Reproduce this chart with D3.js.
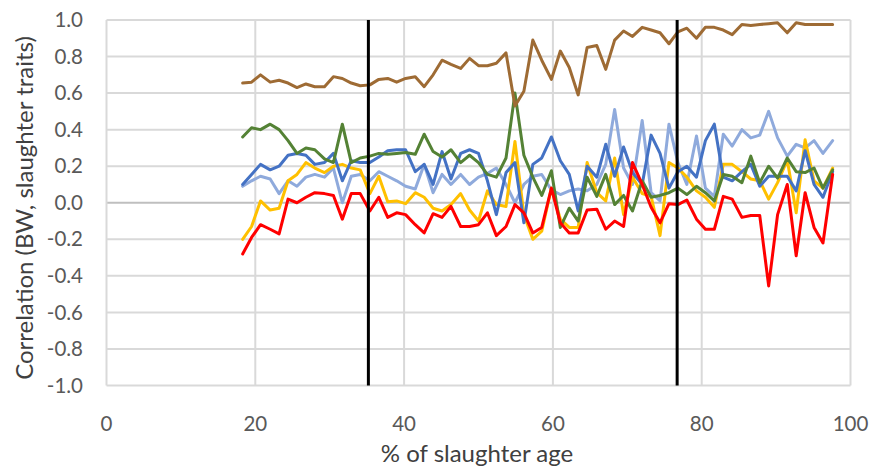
<!DOCTYPE html>
<html>
<head>
<meta charset="utf-8">
<title>Correlation BW vs slaughter traits</title>
<script src="https://cdn.jsdelivr.net/npm/d3@7"></script>
<style>
  body { margin: 0; background: #fff; }
  svg text { font-family: Lato, "Open Sans", sans-serif; }
</style>
</head>
<body>
<div id="chart"></div>
<script>
// x positions: % of slaughter age
var pctAge = [18.3, 19.5, 20.7, 22.0, 23.2, 24.4, 25.6, 26.8, 28.0, 29.3, 30.5, 31.7, 32.9, 34.1, 35.4, 36.6,
  37.8, 39.0, 40.2, 41.5, 42.7, 43.9, 45.1, 46.3, 47.6, 48.8, 50.0, 51.2, 52.4, 53.7, 54.9, 56.1,
  57.3, 58.5, 59.8, 61.0, 62.2, 63.4, 64.6, 65.9, 67.1, 68.3, 69.5, 70.7, 72.0, 73.2, 74.4, 75.6,
  76.8, 78.0, 79.3, 80.5, 81.7, 82.9, 84.1, 85.4, 86.6, 87.8, 89.0, 90.2, 91.5, 92.7, 93.9, 95.1,
  96.3, 97.6];

var brown = [0.655, 0.66, 0.70, 0.66, 0.67, 0.655, 0.63, 0.65, 0.635, 0.635, 0.69, 0.68, 0.655, 0.64, 0.645, 0.675,
  0.68, 0.66, 0.68, 0.69, 0.635, 0.70, 0.78, 0.757, 0.735, 0.79, 0.75, 0.75, 0.763, 0.82, 0.53, 0.61,
  0.89, 0.78, 0.675, 0.83, 0.74, 0.59, 0.85, 0.86, 0.73, 0.89, 0.94, 0.91, 0.96, 0.945, 0.93, 0.87,
  0.935, 0.955, 0.90, 0.96, 0.96, 0.945, 0.92, 0.975, 0.97, 0.975, 0.98, 0.985, 0.93, 0.985, 0.975, 0.975,
  0.975, 0.975];

var green = [0.36, 0.41, 0.40, 0.43, 0.40, 0.34, 0.27, 0.30, 0.29, 0.24, 0.22, 0.43, 0.22, 0.245, 0.255, 0.27,
  0.265, 0.27, 0.275, 0.265, 0.375, 0.28, 0.25, 0.29, 0.22, 0.26, 0.22, 0.155, 0.14, 0.245, 0.60, 0.26,
  0.14, 0.04, 0.175, -0.135, -0.03, -0.10, 0.14, 0.035, 0.155, -0.01, 0.04, -0.045, 0.12, 0.03, 0.04, 0.055,
  0.08, 0.045, 0.09, 0.055, 0.01, 0.155, 0.145, 0.11, 0.255, 0.11, 0.20, 0.135, 0.245, 0.17, 0.165, 0.19,
  0.08, 0.18];

var blue = [0.10, 0.155, 0.21, 0.18, 0.20, 0.26, 0.27, 0.26, 0.21, 0.22, 0.27, 0.12, 0.23, 0.22, 0.22, 0.25,
  0.285, 0.29, 0.29, 0.17, 0.21, 0.10, 0.28, 0.13, 0.27, 0.29, 0.27, 0.12, -0.065, 0.165, 0.22, -0.11,
  0.21, 0.245, 0.36, 0.23, 0.155, -0.045, 0.20, 0.14, 0.32, 0.145, 0.305, 0.165, 0.10, 0.37, 0.27, 0.08,
  0.17, 0.20, 0.14, 0.34, 0.43, 0.14, 0.12, 0.17, 0.21, 0.09, 0.145, 0.145, 0.145, 0.065, 0.285, 0.10,
  0.03, 0.17];

var lightBlue = [0.09, 0.12, 0.145, 0.13, 0.05, 0.12, 0.09, 0.14, 0.155, 0.14, 0.19, 0.00, 0.145, 0.155, 0.12, 0.17,
  0.145, 0.12, 0.09, 0.075, 0.21, 0.055, 0.155, 0.10, 0.155, 0.10, 0.14, 0.16, 0.19, 0.10, 0.00, 0.10,
  0.145, 0.155, 0.07, 0.045, 0.065, 0.075, 0.065, 0.10, 0.21, 0.51, 0.19, 0.10, 0.45, 0.055, 0.01, 0.43,
  0.22, 0.10, 0.365, 0.08, 0.035, 0.375, 0.31, 0.40, 0.355, 0.37, 0.50, 0.355, 0.255, 0.32, 0.30, 0.34,
  0.27, 0.34];

var yellow = [-0.20, -0.13, 0.01, -0.04, -0.03, 0.12, 0.155, 0.22, 0.19, 0.165, 0.20, 0.21, 0.19, 0.18, 0.05, 0.145,
  0.005, 0.01, -0.005, 0.055, 0.03, -0.03, -0.045, -0.01, 0.05, -0.04, -0.10, 0.065, -0.01, -0.02, 0.335, -0.065,
  -0.20, -0.155, 0.08, -0.09, -0.135, -0.135, 0.22, 0.055, 0.01, 0.245, -0.065, 0.14, 0.05, 0.035, -0.18, 0.22,
  0.19, 0.14, 0.065, 0.03, -0.025, 0.21, 0.21, 0.17, 0.13, 0.12, 0.02, 0.11, 0.235, -0.055, 0.345, 0.12,
  0.08, 0.19];

var red = [-0.28, -0.19, -0.12, -0.145, -0.17, 0.02, 0.00, 0.03, 0.055, 0.05, 0.04, -0.09, 0.05, 0.05, -0.045, 0.03,
  -0.08, -0.055, -0.065, -0.12, -0.165, -0.06, -0.08, -0.02, -0.13, -0.13, -0.12, -0.055, -0.18, -0.13, -0.01, -0.055,
  -0.165, -0.135, 0.08, -0.11, -0.165, -0.165, -0.04, -0.035, -0.145, -0.10, -0.13, 0.22, 0.10, -0.025, -0.11, -0.005,
  -0.01, 0.015, -0.09, -0.145, -0.145, 0.035, 0.02, -0.08, -0.07, -0.07, -0.455, -0.065, 0.10, -0.29, 0.055, -0.135,
  -0.22, 0.155];

// phase boundaries (vertical black lines)
var phaseLines = [35.2, 76.7];

var xTicks = [0, 20, 40, 60, 80, 100];
var yTicks = [-1.0, -0.8, -0.6, -0.4, -0.2, 0.0, 0.2, 0.4, 0.6, 0.8, 1.0];

// drawing order: later ones on top
var series = [
  {name: 'light blue', values: lightBlue, color: '#8FAADC'},
  {name: 'yellow', values: yellow, color: '#FFC000'},
  {name: 'blue', values: blue, color: '#4472C4'},
  {name: 'green', values: green, color: '#548235'},
  {name: 'brown', values: brown, color: '#9E6B34'},
  {name: 'red', values: red, color: '#FF0000'}
];

var width = 872, height = 469;
var svg = d3.select('#chart').append('svg')
    .attr('width', width)
    .attr('height', height);

var x = d3.scaleLinear().domain([0, 100]).range([106.5, 850.5]);
var y = d3.scaleLinear().domain([-1, 1]).range([385.5, 20]);

// gridlines
svg.append('g')
  .selectAll('line')
  .data(yTicks)
  .enter().append('line')
    .attr('x1', x(0)).attr('x2', x(100))
    .attr('y1', d => y(d)).attr('y2', d => y(d))
    .attr('stroke', d => d === 0 ? '#BFBFBF' : '#D9D9D9')
    .attr('stroke-width', 2);

svg.append('g')
  .selectAll('line')
  .data(xTicks)
  .enter().append('line')
    .attr('x1', d => x(d)).attr('x2', d => x(d))
    .attr('y1', y(1)).attr('y2', y(-1))
    .attr('stroke', '#D9D9D9')
    .attr('stroke-width', 2);

// y tick labels
svg.append('g')
  .selectAll('text')
  .data(yTicks)
  .enter().append('text')
    .attr('x', 83)
    .attr('y', d => y(d))
    .attr('dy', '0.35em')
    .attr('text-anchor', 'end')
    .attr('fill', '#595959')
    .attr('font-size', 20.5)
    .text(d => d3.format('.1f')(d).replace('−', '-'));

// x tick labels
svg.append('g')
  .selectAll('text')
  .data(xTicks)
  .enter().append('text')
    .attr('x', d => x(d))
    .attr('y', 424)
    .attr('dy', '0.35em')
    .attr('text-anchor', 'middle')
    .attr('fill', '#595959')
    .attr('font-size', 20.5)
    .text(d => d);

// axis titles
svg.append('text')
  .attr('x', 477)
  .attr('y', 454)
  .attr('dy', '0.35em')
  .attr('text-anchor', 'middle')
  .attr('fill', '#404040')
  .attr('font-size', 24)
  .text('% of slaughter age');

svg.append('text')
  .attr('transform', 'translate(25,' + 208 + ') rotate(-90)')
  .attr('dy', '0.35em')
  .attr('text-anchor', 'middle')
  .attr('fill', '#404040')
  .attr('font-size', 24)
  .text('Correlation (BW, slaughter traits)');

// series lines
var line = d3.line()
    .x((d, i) => x(pctAge[i]))
    .y(d => y(d));

svg.append('g')
  .selectAll('path')
  .data(series)
  .enter().append('path')
    .attr('d', d => line(d.values))
    .attr('fill', 'none')
    .attr('stroke', d => d.color)
    .attr('stroke-width', 3)
    .attr('stroke-linejoin', 'round')
    .attr('stroke-linecap', 'round');

// vertical phase lines
svg.append('g')
  .selectAll('line')
  .data(phaseLines)
  .enter().append('line')
    .attr('x1', d => x(d)).attr('x2', d => x(d))
    .attr('y1', y(1)).attr('y2', y(-1))
    .attr('stroke', '#000')
    .attr('stroke-width', 3);
</script>
</body>
</html>
